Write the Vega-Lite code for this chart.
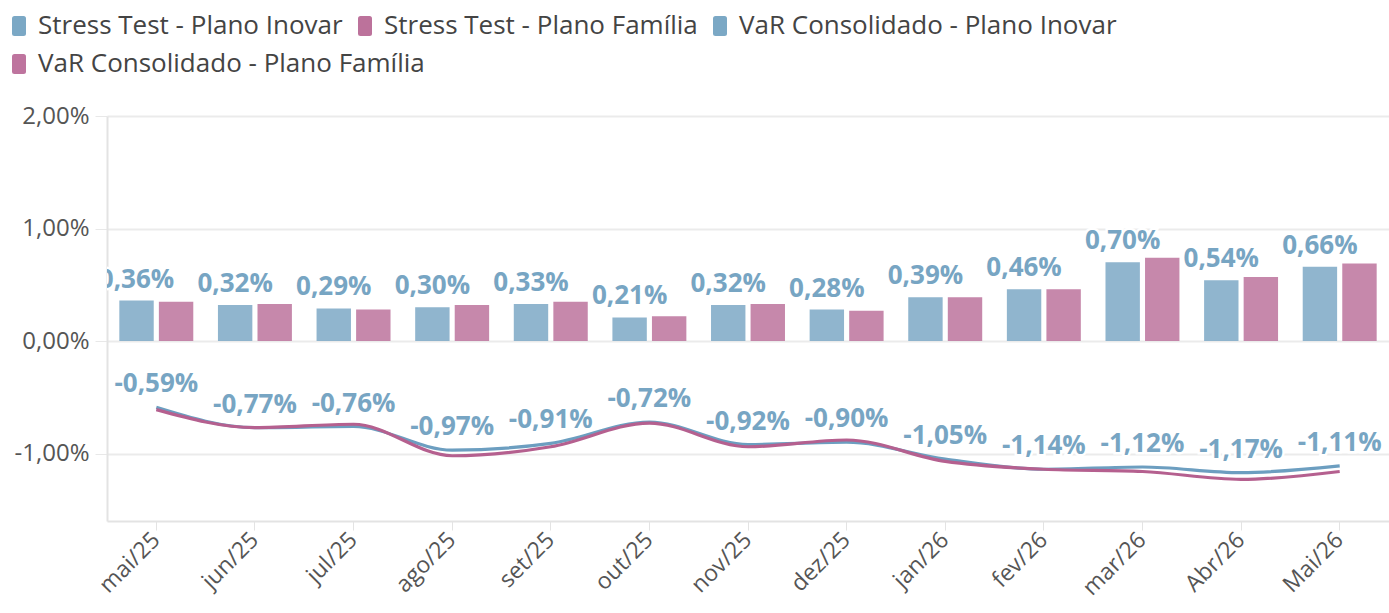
{
  "$schema": "https://vega.github.io/schema/vega-lite/v6.json",
  "width": 1282,
  "height": 405,
  "autosize": {"type": "none"},
  "padding": {"left": 107, "top": 116, "right": 0, "bottom": 92},
  "datasets": {
    "barras": [
      {"mes": "mai/25", "serie": "Stress Test - Plano Inovar", "valor": 0.0036},
      {"mes": "jun/25", "serie": "Stress Test - Plano Inovar", "valor": 0.0032},
      {"mes": "jul/25", "serie": "Stress Test - Plano Inovar", "valor": 0.0029},
      {"mes": "ago/25", "serie": "Stress Test - Plano Inovar", "valor": 0.0030},
      {"mes": "set/25", "serie": "Stress Test - Plano Inovar", "valor": 0.0033},
      {"mes": "out/25", "serie": "Stress Test - Plano Inovar", "valor": 0.0021},
      {"mes": "nov/25", "serie": "Stress Test - Plano Inovar", "valor": 0.0032},
      {"mes": "dez/25", "serie": "Stress Test - Plano Inovar", "valor": 0.0028},
      {"mes": "jan/26", "serie": "Stress Test - Plano Inovar", "valor": 0.0039},
      {"mes": "fev/26", "serie": "Stress Test - Plano Inovar", "valor": 0.0046},
      {"mes": "mar/26", "serie": "Stress Test - Plano Inovar", "valor": 0.0070},
      {"mes": "Abr/26", "serie": "Stress Test - Plano Inovar", "valor": 0.0054},
      {"mes": "Mai/26", "serie": "Stress Test - Plano Inovar", "valor": 0.0066},
      {"mes": "mai/25", "serie": "Stress Test - Plano Família", "valor": 0.0035},
      {"mes": "jun/25", "serie": "Stress Test - Plano Família", "valor": 0.0033},
      {"mes": "jul/25", "serie": "Stress Test - Plano Família", "valor": 0.0028},
      {"mes": "ago/25", "serie": "Stress Test - Plano Família", "valor": 0.0032},
      {"mes": "set/25", "serie": "Stress Test - Plano Família", "valor": 0.0035},
      {"mes": "out/25", "serie": "Stress Test - Plano Família", "valor": 0.0022},
      {"mes": "nov/25", "serie": "Stress Test - Plano Família", "valor": 0.0033},
      {"mes": "dez/25", "serie": "Stress Test - Plano Família", "valor": 0.0027},
      {"mes": "jan/26", "serie": "Stress Test - Plano Família", "valor": 0.0039},
      {"mes": "fev/26", "serie": "Stress Test - Plano Família", "valor": 0.0046},
      {"mes": "mar/26", "serie": "Stress Test - Plano Família", "valor": 0.0074},
      {"mes": "Abr/26", "serie": "Stress Test - Plano Família", "valor": 0.0057},
      {"mes": "Mai/26", "serie": "Stress Test - Plano Família", "valor": 0.0069}
    ],
    "linhas": [
      {"mes": "mai/25", "serie": "VaR Consolidado - Plano Inovar", "valor": -0.0059},
      {"mes": "jun/25", "serie": "VaR Consolidado - Plano Inovar", "valor": -0.0077},
      {"mes": "jul/25", "serie": "VaR Consolidado - Plano Inovar", "valor": -0.0076},
      {"mes": "ago/25", "serie": "VaR Consolidado - Plano Inovar", "valor": -0.0097},
      {"mes": "set/25", "serie": "VaR Consolidado - Plano Inovar", "valor": -0.0091},
      {"mes": "out/25", "serie": "VaR Consolidado - Plano Inovar", "valor": -0.0072},
      {"mes": "nov/25", "serie": "VaR Consolidado - Plano Inovar", "valor": -0.0092},
      {"mes": "dez/25", "serie": "VaR Consolidado - Plano Inovar", "valor": -0.0090},
      {"mes": "jan/26", "serie": "VaR Consolidado - Plano Inovar", "valor": -0.0105},
      {"mes": "fev/26", "serie": "VaR Consolidado - Plano Inovar", "valor": -0.0114},
      {"mes": "mar/26", "serie": "VaR Consolidado - Plano Inovar", "valor": -0.0112},
      {"mes": "Abr/26", "serie": "VaR Consolidado - Plano Inovar", "valor": -0.0117},
      {"mes": "Mai/26", "serie": "VaR Consolidado - Plano Inovar", "valor": -0.0111},
      {"mes": "mai/25", "serie": "VaR Consolidado - Plano Família", "valor": -0.0061},
      {"mes": "jun/25", "serie": "VaR Consolidado - Plano Família", "valor": -0.0077},
      {"mes": "jul/25", "serie": "VaR Consolidado - Plano Família", "valor": -0.0074},
      {"mes": "ago/25", "serie": "VaR Consolidado - Plano Família", "valor": -0.0102},
      {"mes": "set/25", "serie": "VaR Consolidado - Plano Família", "valor": -0.0094},
      {"mes": "out/25", "serie": "VaR Consolidado - Plano Família", "valor": -0.0073},
      {"mes": "nov/25", "serie": "VaR Consolidado - Plano Família", "valor": -0.0094},
      {"mes": "dez/25", "serie": "VaR Consolidado - Plano Família", "valor": -0.0088},
      {"mes": "jan/26", "serie": "VaR Consolidado - Plano Família", "valor": -0.0107},
      {"mes": "fev/26", "serie": "VaR Consolidado - Plano Família", "valor": -0.0114},
      {"mes": "mar/26", "serie": "VaR Consolidado - Plano Família", "valor": -0.0116},
      {"mes": "Abr/26", "serie": "VaR Consolidado - Plano Família", "valor": -0.0123},
      {"mes": "Mai/26", "serie": "VaR Consolidado - Plano Família", "valor": -0.0116}
    ]
  },
  "encoding": {
    "x": {
      "field": "mes",
      "type": "ordinal",
      "sort": ["mai/25", "jun/25", "jul/25", "ago/25", "set/25", "out/25", "nov/25", "dez/25", "jan/26", "fev/26", "mar/26", "Abr/26", "Mai/26"],
      "scale": {"paddingInner": 0.25, "paddingOuter": 0.125},
      "axis": {
        "title": null,
        "labelAngle": -45,
        "labelAlign": "right",
        "labelBaseline": "middle",
        "labelFontSize": 23,
        "labelColor": "#555555",
        "labelPadding": 6,
        "tickSize": 9,
        "tickColor": "#e3e3e3",
        "domainColor": "#e3e3e3",
        "domainWidth": 2,
        "grid": false
      }
    },
    "y": {
      "field": "valor",
      "type": "quantitative",
      "scale": {"domain": [-0.016, 0.02], "nice": false, "zero": false},
      "axis": {
        "title": null,
        "values": [-0.01, 0, 0.01, 0.02],
        "format": ".2%",
        "labelFontSize": 24,
        "labelColor": "#555555",
        "labelPadding": 6,
        "tickSize": 12,
        "tickColor": "#e8e8e8",
        "domainColor": "#e3e3e3",
        "domainWidth": 2,
        "gridColor": "#ebebeb",
        "gridWidth": 2
      }
    }
  },
  "layer": [
    {
      "data": {"name": "barras"},
      "mark": {"type": "bar", "opacity": 0.8},
      "encoding": {
        "xOffset": {
          "field": "serie",
          "type": "nominal",
          "sort": ["Stress Test - Plano Inovar", "Stress Test - Plano Família"],
          "scale": {"domain": ["Stress Test - Plano Inovar", "Stress Test - Plano Família"], "paddingInner": 0.13, "paddingOuter": 0}
        },
        "color": {
          "field": "serie",
          "type": "nominal",
          "scale": {
            "domain": ["Stress Test - Plano Inovar", "Stress Test - Plano Família", "VaR Consolidado - Plano Inovar", "VaR Consolidado - Plano Família"],
            "range": ["#74a3c2", "#b86a96", "#74a3c2", "#b86a96"]
          },
          "legend": {
            "title": null,
            "orient": "none",
            "legendX": -101,
            "legendY": -103,
            "direction": "horizontal",
            "values": ["Stress Test - Plano Inovar", "Stress Test - Plano Família", "VaR Consolidado - Plano Inovar"],
            "labelFontSize": 26,
            "labelLimit": 0,
            "labelColor": "#444444",
            "labelOffset": 6,
            "columnPadding": 9,
            "symbolSize": 400,
            "symbolStrokeWidth": 0,
            "symbolOpacity": 0.95,
            "symbolType": "M-0.45,-1H0.45Q0.7,-1,0.7,-0.75V0.75Q0.7,1,0.45,1H-0.45Q-0.7,1,-0.7,0.75V-0.75Q-0.7,-1,-0.45,-1Z"
          }
        }
      }
    },
    {
      "data": {"name": "linhas"},
      "mark": {"type": "line", "interpolate": "monotone", "strokeWidth": 3.2},
      "encoding": {
        "stroke": {
          "field": "serie",
          "type": "nominal",
          "scale": {
            "domain": ["VaR Consolidado - Plano Inovar", "VaR Consolidado - Plano Família"],
            "range": ["#6c9ec0", "#b5608f"]
          },
          "legend": {
            "title": null,
            "orient": "none",
            "legendX": -101,
            "legendY": -65,
            "direction": "horizontal",
            "values": ["VaR Consolidado - Plano Família"],
            "labelFontSize": 26,
            "labelLimit": 0,
            "labelColor": "#444444",
            "labelOffset": 6,
            "symbolSize": 400,
            "symbolStrokeWidth": 0,
            "symbolFillColor": "#bb6d99",
            "symbolOpacity": 0.95,
            "symbolType": "M-0.45,-1H0.45Q0.7,-1,0.7,-0.75V0.75Q0.7,1,0.45,1H-0.45Q-0.7,1,-0.7,0.75V-0.75Q-0.7,-1,-0.45,-1Z"
          }
        }
      }
    },
    {
      "data": {"name": "barras"},
      "transform": [{"filter": "datum.serie == 'Stress Test - Plano Inovar'"}],
      "mark": {"type": "text", "fontSize": 26, "fontWeight": "bold", "baseline": "middle", "dy": -21, "clip": true, "stroke": "white", "strokeWidth": 5, "fill": "white"},
      "encoding": {
        "xOffset": {"field": "serie", "type": "nominal"},
        "text": {"field": "valor", "type": "quantitative", "format": ".2%"}
      }
    },
    {
      "data": {"name": "barras"},
      "transform": [{"filter": "datum.serie == 'Stress Test - Plano Inovar'"}],
      "mark": {"type": "text", "fontSize": 26, "fontWeight": "bold", "baseline": "middle", "dy": -21, "clip": true, "fill": "#77a5c3"},
      "encoding": {
        "xOffset": {"field": "serie", "type": "nominal"},
        "text": {"field": "valor", "type": "quantitative", "format": ".2%"}
      }
    },
    {
      "data": {"name": "linhas"},
      "transform": [{"filter": "datum.serie == 'VaR Consolidado - Plano Inovar'"}],
      "mark": {"type": "text", "fontSize": 26, "fontWeight": "bold", "baseline": "middle", "dy": -23, "clip": true, "stroke": "white", "strokeWidth": 5, "fill": "white"},
      "encoding": {
        "text": {"field": "valor", "type": "quantitative", "format": ".2%"}
      }
    },
    {
      "data": {"name": "linhas"},
      "transform": [{"filter": "datum.serie == 'VaR Consolidado - Plano Inovar'"}],
      "mark": {"type": "text", "fontSize": 26, "fontWeight": "bold", "baseline": "middle", "dy": -23, "clip": true, "fill": "#77a5c3"},
      "encoding": {
        "text": {"field": "valor", "type": "quantitative", "format": ".2%"}
      }
    }
  ],
  "config": {
    "font": "Open Sans",
    "view": {"stroke": null},
    "locale": {
      "number": {"decimal": ",", "thousands": ".", "grouping": [3], "currency": ["R$ ", ""], "minus": "-"}
    }
  }
}
